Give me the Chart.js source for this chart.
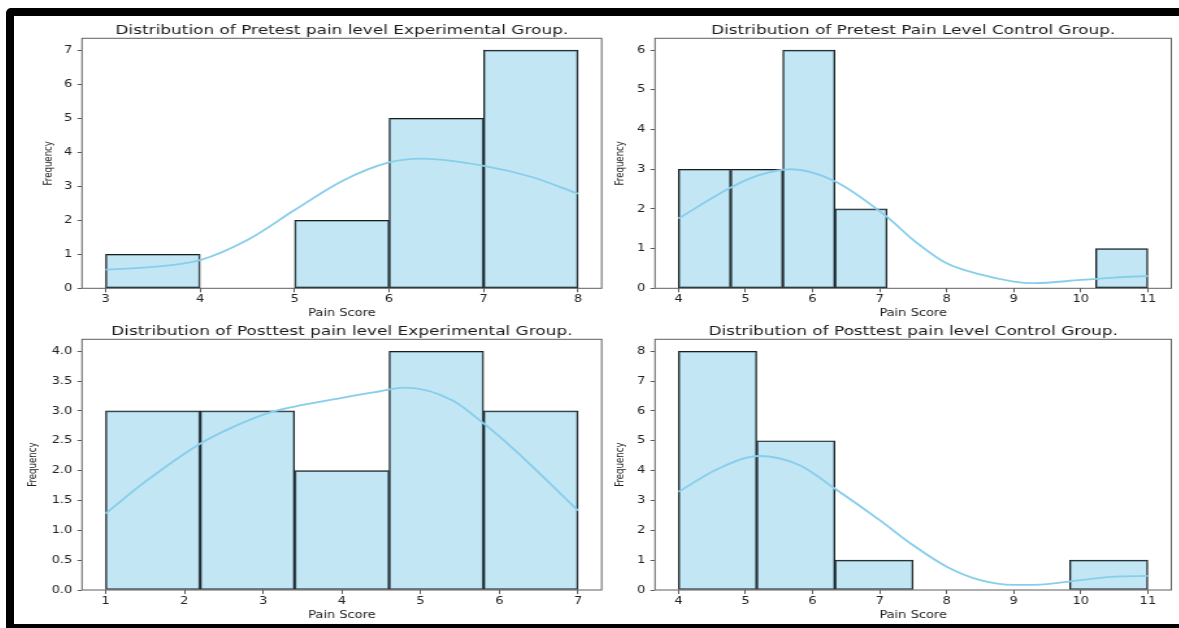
<!DOCTYPE html>
<html>
<head>
<meta charset="utf-8">
<script src="https://cdn.jsdelivr.net/npm/chart.js@4.4.1/dist/chart.umd.min.js"></script>
<style>
  html, body { margin: 0; padding: 0; background: #fff; overflow: hidden; }
  body { width: 1179px; height: 628px; position: relative; }
  #frame { position: absolute; left: 6px; top: 8px; width: 1300px; height: 624px; box-sizing: border-box; border: 8px solid #000; border-radius: 5px; }
  canvas { position: absolute; transform-origin: 0 0; }
</style>
</head>
<body>
<div id="frame"></div>
<canvas id="preExp"></canvas>
<canvas id="preCtl"></canvas>
<canvas id="postExp"></canvas>
<canvas id="postCtl"></canvas>
<script>
// Pretest, experimental group
const preExpEdges = [3, 4, 5, 6, 7, 8];
const preExpCounts = [1, 0, 2, 5, 7];
const preExpKdeX = [3, 3.5, 4, 4.5, 5, 5.5, 6, 6.35, 7, 7.5, 8];
const preExpKdeY = [0.55, 0.63, 0.83, 1.42, 2.3, 3.15, 3.7, 3.81, 3.6, 3.28, 2.78];
const preExpXTicks = [3, 4, 5, 6, 7, 8];
const preExpYTicks = [0, 1, 2, 3, 4, 5, 6, 7];

// Pretest, control group
const preCtlEdges = [4, 4.778, 5.556, 6.333, 7.111, 7.889, 8.667, 9.444, 10.222, 11];
const preCtlCounts = [3, 3, 6, 2, 0, 0, 0, 0, 1];
const preCtlKdeX = [4, 4.78, 5.2, 5.68, 6.33, 7.11, 7.5, 8, 8.5, 9, 9.3, 10, 10.5, 11];
const preCtlKdeY = [1.76, 2.54, 2.85, 3.0, 2.7, 1.8, 1.22, 0.63, 0.35, 0.17, 0.13, 0.21, 0.27, 0.31];
const preCtlXTicks = [4, 5, 6, 7, 8, 9, 10, 11];
const preCtlYTicks = [0, 1, 2, 3, 4, 5, 6];

// Posttest, experimental group
const postExpEdges = [1, 2.2, 3.4, 4.6, 5.8, 7];
const postExpCounts = [3, 3, 2, 4, 3];
const postExpKdeX = [1, 1.5, 2.2, 2.6, 3.1, 3.5, 4, 4.4, 4.8, 5.4, 5.8, 6.2, 6.6, 7];
const postExpKdeY = [1.28, 1.81, 2.45, 2.72, 2.98, 3.1, 3.22, 3.31, 3.39, 3.18, 2.79, 2.34, 1.84, 1.33];
const postExpXTicks = [1, 2, 3, 4, 5, 6, 7];
const postExpYTicks = [0, 0.5, 1, 1.5, 2, 2.5, 3, 3.5, 4];

// Posttest, control group
const postCtlEdges = [4, 5.167, 6.333, 7.5, 8.667, 9.833, 11];
const postCtlCounts = [8, 5, 1, 0, 0, 1];
const postCtlKdeX = [4, 4.6, 5.2, 5.8, 6.33, 7, 7.5, 8, 8.5, 9, 9.5, 10, 10.5, 11];
const postCtlKdeY = [3.29, 4.07, 4.49, 4.19, 3.4, 2.34, 1.5, 0.78, 0.33, 0.17, 0.2, 0.33, 0.45, 0.47];
const postCtlXTicks = [4, 5, 6, 7, 8, 9, 10, 11];
const postCtlYTicks = [0, 1, 2, 3, 4, 5, 6, 7, 8];

Chart.defaults.font.family = "'DejaVu Sans', sans-serif";
Chart.defaults.color = '#222';

const S = 1.3;          // the source figure is stretched sideways
const Y_AXIS_W = 68;    // page px between canvas left and plot frame
const TITLE_H = 24.3;
const X_AXIS_H = 31;

// box round the plot area, like matplotlib spines
const framePlugin = {
  id: 'frame',
  afterDraw(chart) {
    const {ctx, chartArea: a} = chart;
    ctx.save();
    ctx.strokeStyle = '#5f5f5f';
    ctx.lineWidth = 1;
    ctx.strokeRect(a.left, a.top, a.right - a.left, a.bottom - a.top);
    ctx.restore();
  }
};

function drawPanel(id, box, title, edges, counts, kdeX, kdeY, xLim, yMax, xTicks, yTicks, decimals, yTitlePad) {
  const canvas = document.getElementById(id);
  const plotW = (box.right - box.left) / S;
  const plotH = box.bottom - box.top;
  const yW = Y_AXIS_W / S;
  const w = Math.ceil(yW + plotW + 3);
  const h = Math.ceil(TITLE_H + plotH + X_AXIS_H);
  canvas.width = w;
  canvas.height = h;
  canvas.style.left = (box.left - Y_AXIS_W) + 'px';
  canvas.style.top = (box.top - TITLE_H) + 'px';
  canvas.style.transform = 'scaleX(' + S + ')';

  const bars = counts.map((c, i) => ({x: (edges[i] + edges[i + 1]) / 2, y: c}));
  const kde = kdeX.map((x, i) => ({x: x, y: kdeY[i]}));

  const yTickOpts = { padding: 4, font: {size: 10} };
  if (decimals) yTickOpts.callback = v => v.toFixed(decimals);

  new Chart(canvas, {
    type: 'bar',
    data: {
      datasets: [
        {
          type: 'line',
          data: kde,
          borderColor: 'rgb(135,206,235)',
          borderWidth: 1.8,
          pointRadius: 0,
          fill: false,
          cubicInterpolationMode: 'monotone',
          order: 0
        },
        {
          type: 'bar',
          data: bars,
          backgroundColor: 'rgba(135,206,235,0.5)',
          borderColor: '#1c1c1c',
          borderWidth: 1,
          borderSkipped: false,
          barThickness: 'flex',
          barPercentage: 1,
          categoryPercentage: 1,
          order: 1
        }
      ]
    },
    options: {
      responsive: false,
      animation: false,
      layout: { padding: { right: w - yW - plotW, bottom: h - TITLE_H - plotH - X_AXIS_H } },
      plugins: {
        legend: { display: false },
        tooltip: { enabled: false },
        title: {
          display: true,
          text: title,
          fullSize: false,
          color: '#1a1a1a',
          font: { size: 13, weight: 'normal' },
          padding: { top: 8.4, bottom: 0.3 }
        }
      },
      scales: {
        x: {
          type: 'linear',
          min: xLim[0],
          max: xLim[1],
          offset: false,
          afterBuildTicks: s => { s.ticks = xTicks.map(v => ({value: v})); },
          afterFit: s => { s.height = X_AXIS_H; },
          grid: { offset: false, drawOnChartArea: false, tickLength: 4, color: '#5f5f5f' },
          border: { display: false },
          ticks: { padding: 1.5, font: {size: 10}, maxRotation: 0 },
          title: { display: true, text: 'Pain Score', font: {size: 10}, padding: {top: 0, bottom: 0} }
        },
        y: {
          min: 0,
          max: yMax,
          afterBuildTicks: s => { s.ticks = yTicks.map(v => ({value: v})); },
          afterFit: s => { s.width = yW; },
          grid: { drawOnChartArea: false, tickLength: 3.5, color: '#5f5f5f' },
          border: { display: false },
          ticks: yTickOpts,
          title: { display: true, text: 'Frequency', font: {size: 8.6}, padding: {top: yTitlePad, bottom: 0} }
        }
      }
    },
    plugins: [framePlugin]
  });
}

drawPanel('preExp', {left: 82, right: 601.7, top: 38.3, bottom: 288.3},
  'Distribution of Pretest pain level Experimental Group.',
  preExpEdges, preExpCounts, preExpKdeX, preExpKdeY, [2.75, 8.25], 7.35, preExpXTicks, preExpYTicks, 0, 21.2);

drawPanel('preCtl', {left: 655.4, right: 1171.7, top: 38.3, bottom: 288.3},
  'Distribution of Pretest Pain Level Control Group.',
  preCtlEdges, preCtlCounts, preCtlKdeX, preCtlKdeY, [3.65, 11.35], 6.3, preCtlXTicks, preCtlYTicks, 0, 20.4);

drawPanel('postExp', {left: 82, right: 601.7, top: 339.3, bottom: 590},
  'Distribution of Posttest pain level Experimental Group.',
  postExpEdges, postExpCounts, postExpKdeX, postExpKdeY, [0.7, 7.3], 4.2, postExpXTicks, postExpYTicks, 1, 9.8);

drawPanel('postCtl', {left: 655.4, right: 1171.7, top: 339.3, bottom: 590},
  'Distribution of Posttest pain level Control Group.',
  postCtlEdges, postCtlCounts, postCtlKdeX, postCtlKdeY, [3.65, 11.35], 8.4, postCtlXTicks, postCtlYTicks, 0, 20.7);
</script>
</body>
</html>
